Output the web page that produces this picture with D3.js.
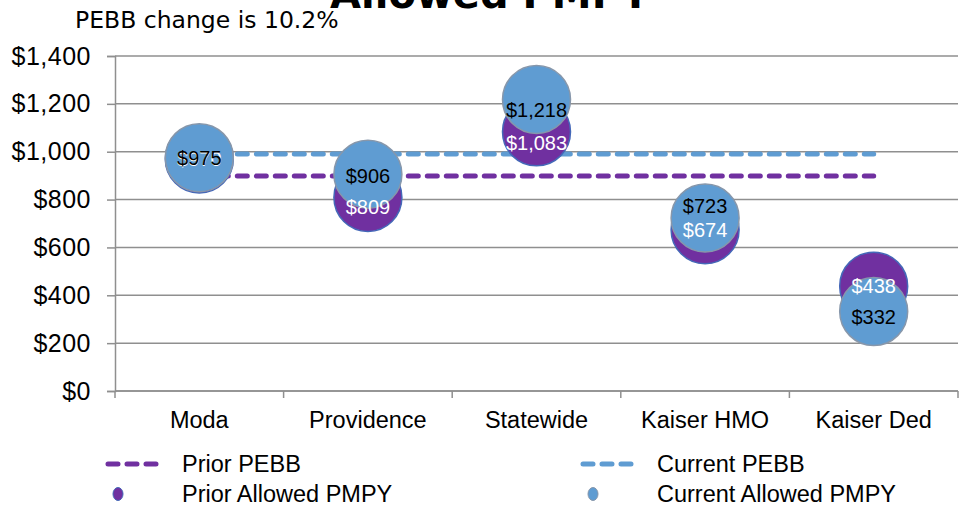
<!DOCTYPE html>
<html>
<head>
<meta charset="utf-8">
<script src="https://cdn.jsdelivr.net/npm/d3@7"></script>
<style>
  body { margin: 0; background: #fff; }
  svg { display: block; }
</style>
</head>
<body>
<div id="chart"></div>
<script>
// data
var categories = ["Moda", "Providence", "Statewide", "Kaiser HMO", "Kaiser Ded"];
var priorAllowed = [970, 809, 1083, 674, 438];
var currentAllowed = [975, 906, 1218, 723, 332];
var priorPebb = 898;
var currentPebb = 990;
var yTicks = [0, 200, 400, 600, 800, 1000, 1200, 1400];

// small nudges of the data labels (px), as in the original
var priorLabelNudge = [0, 10, 11, 0, 0];
var currentLabelNudge = [0, 2, 10, -12, 5];

var purple = "#7030a0",
    blue = "#5f9cd2";

var width = 961,
    height = 506,
    plotLeft = 115,
    plotRight = 958,
    plotTop = 56,
    plotBottom = 391;

var svg = d3.select("#chart")
    .append("svg")
    .attr("width", width)
    .attr("height", height)

var x = d3.scaleBand()
    .domain(categories)
    .range([plotLeft, plotRight]);

var y = d3.scaleLinear()
    .domain([0, 1400])
    .range([plotBottom, plotTop]);

var cx = function (d, i) { return x(categories[i]) + x.bandwidth() / 2; };

// gridlines
svg.append("g")
    .selectAll("line")
    .data(yTicks)
    .enter()
    .append("line")
    .attr("x1", plotLeft)
    .attr("x2", plotRight)
    .attr("y1", function (d) { return y(d); })
    .attr("y2", function (d) { return y(d); })
    .style("stroke", "#8f8f8f")
    .style("stroke-width", 1.5)

// y axis
var yAxis = svg.append("g")
    .attr("transform", "translate(" + plotLeft + ",0)")
    .call(d3.axisLeft(y)
        .tickValues(yTicks)
        .tickSize(8)
        .tickPadding(16)
        .tickFormat(function (d) { return "$" + d3.format(",")(d); }));

yAxis.select(".domain").style("stroke", "#8f8f8f").style("stroke-width", 1.5)
yAxis.selectAll(".tick line").style("stroke", "#8f8f8f").style("stroke-width", 1.5)
yAxis.selectAll("text")
    .style("font-family", "'Liberation Sans', Arial, sans-serif")
    .style("font-size", "25px")
    .style("letter-spacing", "0.5px")
    .style("fill", "#000")

// x axis
var xAxis = svg.append("g")
    .attr("transform", "translate(0," + plotBottom + ")")
    .call(d3.axisBottom(x).tickSize(0).tickPadding(20));

xAxis.select(".domain").remove()
xAxis.selectAll("text")
    .style("font-family", "'Liberation Sans', Arial, sans-serif")
    .style("font-size", "23.5px")
    .style("fill", "#000")

svg.append("line")
    .attr("x1", plotLeft).attr("x2", plotRight)
    .attr("y1", plotBottom).attr("y2", plotBottom)
    .style("stroke", "#8f8f8f")
    .style("stroke-width", 1.5)

svg.append("g")
    .selectAll("line")
    .data(categories.map(function (c) { return x(c); }).concat([plotRight]))
    .enter()
    .append("line")
    .attr("x1", function (d) { return d; })
    .attr("x2", function (d) { return d; })
    .attr("y1", plotBottom)
    .attr("y2", plotBottom + 7)
    .style("stroke", "#8f8f8f")
    .style("stroke-width", 1.5)

// PEBB average lines
var line = d3.line()
    .x(function (d, i) { return cx(d, i); })
    .y(function (d) { return y(d); });

[[priorPebb, purple], [currentPebb, blue]].forEach(function (p) {
    svg.append("path")
        .datum(categories.map(function () { return p[0]; }))
        .attr("d", line)
        .style("fill", "none")
        .style("stroke", p[1])
        .style("stroke-width", 5)
        .style("stroke-dasharray", "10,9")
        .style("stroke-linecap", "round")
});

// bubbles
var r = 34;

svg.append("g")
    .selectAll("circle")
    .data(priorAllowed)
    .enter()
    .append("circle")
    .attr("cx", cx)
    .attr("cy", function (d) { return y(d); })
    .attr("r", r)
    .style("fill", purple)
    .style("stroke", "#4468b8")
    .style("stroke-width", 1.5)

svg.append("g")
    .selectAll("circle")
    .data(currentAllowed)
    .enter()
    .append("circle")
    .attr("cx", cx)
    .attr("cy", function (d) { return y(d); })
    .attr("r", r)
    .style("fill", blue)
    .style("stroke", "#8797ab")
    .style("stroke-width", 1.5)

// data labels
function labels(values, nudge, colour) {
    svg.append("g")
        .selectAll("text")
        .data(values)
        .enter()
        .append("text")
        .attr("x", cx)
        .attr("y", function (d, i) { return y(d) + nudge[i]; })
        .attr("dy", "0.35em")
        .attr("text-anchor", "middle")
        .style("font-family", "'Liberation Sans', Arial, sans-serif")
        .style("font-size", "20px")
        .style("fill", colour)
        .text(function (d) { return "$" + d3.format(",")(d); })
}
labels(priorAllowed, priorLabelNudge, "#fff")
labels(currentAllowed, currentLabelNudge, "#000")

// titles
svg.append("text")
    .attr("x", 490)
    .attr("y", 8)
    .attr("text-anchor", "middle")
    .style("font-family", "'DejaVu Sans', Tahoma, sans-serif")
    .style("font-weight", "bold")
    .style("font-size", "40px")
    .text("Allowed PMPY")

svg.append("text")
    .attr("x", 75)
    .attr("y", 28)
    .style("font-family", "'DejaVu Sans', Tahoma, sans-serif")
    .style("font-size", "23.5px")
    .text("PEBB change is 10.2%")

// legend
var legend = [
    { label: "Prior PEBB", colour: purple, type: "line", x: 105, y: 464 },
    { label: "Current PEBB", colour: blue, type: "line", x: 580, y: 464 },
    { label: "Prior Allowed PMPY", colour: purple, type: "dot", x: 105, y: 494 },
    { label: "Current Allowed PMPY", colour: blue, type: "dot", x: 580, y: 494 }
];

var item = svg.append("g")
    .selectAll("g")
    .data(legend)
    .enter()
    .append("g")
    .attr("transform", function (d) { return "translate(" + d.x + "," + d.y + ")"; })

item.filter(function (d) { return d.type == "line"; })
    .append("line")
    .attr("x1", 3).attr("x2", 55)
    .style("stroke", function (d) { return d.colour; })
    .style("stroke-width", 5)
    .style("stroke-dasharray", "10,9")
    .style("stroke-linecap", "round")

item.filter(function (d) { return d.type == "dot"; })
    .append("ellipse")
    .attr("cx", 13).attr("rx", 5).attr("ry", 6.5)
    .style("fill", function (d) { return d.colour; })
    .style("stroke", function (d) { return d.colour == purple ? "#4468b8" : "#8797ab"; })
    .style("stroke-width", 1)

item.append("text")
    .attr("x", 77)
    .attr("dy", "0.35em")
    .style("font-family", "'Liberation Sans', Arial, sans-serif")
    .style("font-size", "23.5px")
    .text(function (d) { return d.label; })
</script>
</body>
</html>
